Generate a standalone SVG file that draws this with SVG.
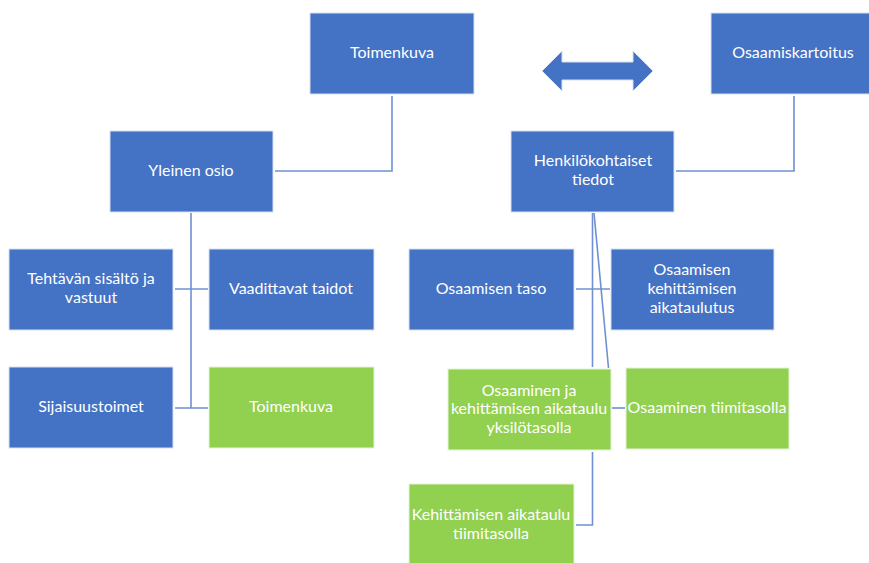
<svg xmlns="http://www.w3.org/2000/svg" width="869" height="563" viewBox="0 0 869 563">
  <style>
    .blue { fill: #4472C4; stroke: #D6E0F2; stroke-width: 1; }
    .green { fill: #92D050; stroke: #E4F3D6; stroke-width: 1; }
    .lbl { font-family: Lato, "Open Sans", "Liberation Sans", sans-serif; font-size: 16px; fill: #FFFFFF; text-anchor: middle; }
    .conn { fill: none; stroke: #6F90D2; stroke-width: 1.6; }
  </style>
  <rect width="869" height="563" fill="#FFFFFF"/>

  <!-- connectors -->
  <g id="connectors" class="conn">
    <polyline points="275,171 392,171 392,96"/>
    <polyline points="676,171 794,171 794,96"/>
    <line x1="191" y1="213" x2="191" y2="408"/>
    <line x1="175" y1="289" x2="208" y2="289"/>
    <line x1="175" y1="408" x2="208" y2="408"/>
    <line x1="592.5" y1="213" x2="592.5" y2="367"/>
    <line x1="594" y1="213" x2="608.5" y2="368"/>
    <line x1="576" y1="289" x2="610" y2="289"/>
    <line x1="612" y1="408" x2="625" y2="408"/>
    <polyline points="592.5,452 592.5,525 576,525"/>
  </g>

  <!-- two-way arrow between the two sections -->
  <g id="arrow">
    <polygon class="blue" points="542,71 562,51 562,62 633,62 633,51 653,71 633,91 633,80 562,80 562,91"/>
  </g>

  <g id="toimenkuva-top">
    <rect class="blue" x="310" y="13" width="164" height="81"/>
    <text class="lbl" x="392" y="58">Toimenkuva</text>
  </g>
  <g id="osaamiskartoitus">
    <rect class="blue" x="711" y="13" width="164" height="81"/>
    <text class="lbl" x="793" y="58">Osaamiskartoitus</text>
  </g>
  <g id="yleinen-osio">
    <rect class="blue" x="110" y="131" width="163" height="81"/>
    <text class="lbl" x="191" y="176">Yleinen osio</text>
  </g>
  <g id="henkilokohtaiset">
    <rect class="blue" x="511" y="131" width="163" height="81"/>
    <text class="lbl" x="593" y="166">Henkilökohtaiset</text>
    <text class="lbl" x="593" y="185">tiedot</text>
  </g>
  <g id="tehtavan-sisalto">
    <rect class="blue" x="9" y="249" width="164" height="81"/>
    <text class="lbl" x="91" y="284">Tehtävän sisältö ja</text>
    <text class="lbl" x="91" y="303">vastuut</text>
  </g>
  <g id="vaadittavat-taidot">
    <rect class="blue" x="209" y="249" width="165" height="81"/>
    <text class="lbl" x="291" y="294">Vaadittavat taidot</text>
  </g>
  <g id="sijaisuustoimet">
    <rect class="blue" x="9" y="367" width="164" height="81"/>
    <text class="lbl" x="91" y="412">Sijaisuustoimet</text>
  </g>
  <g id="toimenkuva-green">
    <rect class="green" x="209" y="367" width="165" height="81"/>
    <text class="lbl" x="291" y="412">Toimenkuva</text>
  </g>
  <g id="osaamisen-taso">
    <rect class="blue" x="409" y="249" width="165" height="81"/>
    <text class="lbl" x="491" y="294">Osaamisen taso</text>
  </g>
  <g id="osaamisen-kehittamisen-aikataulutus">
    <rect class="blue" x="611" y="249" width="163" height="81"/>
    <text class="lbl" x="692" y="275">Osaamisen</text>
    <text class="lbl" x="692" y="294">kehittämisen</text>
    <text class="lbl" x="692" y="313">aikataulutus</text>
  </g>
  <g id="osaaminen-yksilotasolla">
    <rect class="green" x="448" y="369" width="163" height="81"/>
    <text class="lbl" x="529" y="396">Osaaminen ja</text>
    <text class="lbl" x="529" y="414">kehittämisen aikataulu</text>
    <text class="lbl" x="529" y="433">yksilötasolla</text>
  </g>
  <g id="osaaminen-tiimitasolla">
    <rect class="green" x="626" y="368" width="163" height="81"/>
    <text class="lbl" x="707" y="413">Osaaminen tiimitasolla</text>
  </g>
  <g id="kehittamisen-tiimitasolla">
    <rect class="green" x="409" y="484" width="165" height="81"/>
    <text class="lbl" x="491" y="520">Kehittämisen aikataulu</text>
    <text class="lbl" x="491" y="539">tiimitasolla</text>
  </g>
</svg>
